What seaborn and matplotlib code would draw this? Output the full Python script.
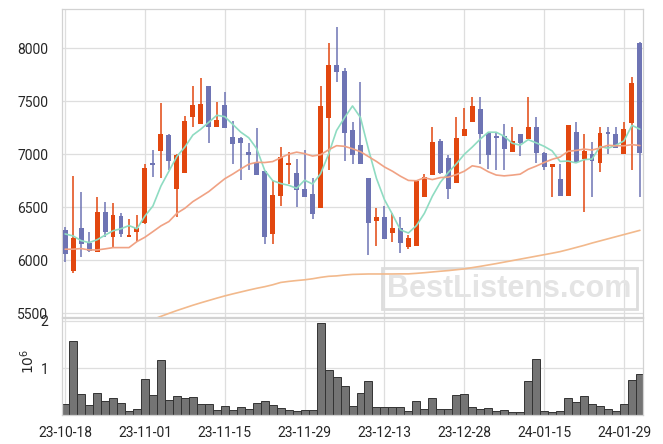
import numpy as np
import pandas as pd
import matplotlib
matplotlib.use("Agg")
import matplotlib.pyplot as plt
import seaborn as sns

# daily candles, index 0 = 23-10-18
opens = [6286, 5902, 6302, 6160, 6082, 6453, 6223, 6415, 6222, 6267,
         6349, 6910, 7034, 7182, 6675, 6827, 7355, 7289, 7645, 7261,
         7465, 7163, 7154, 7022, 6915, 6843, 6251, 6610, 6896, 6824,
         6670, 6626, 6497, 7346, 7843, 7786, 7229, 7085, 6773, 6374,
         6406, 6261, 6302, 6129, 6138, 6600, 6808, 7126, 6962, 6733,
         7176, 7308, 7424, 7198, 7173, 7173, 7025, 7192, 7142, 7255,
         7009, 6884, 6767, 6610, 7211, 6953, 7000, 6921, 7201, 7189,
         7006, 7299, 8047]
highs = [6317, 6795, 6641, 6264, 6594, 6553, 6544, 6443, 6387, 6424,
         6906, 7038, 7481, 7189, 7000, 7365, 7645, 7717, 7645, 7497,
         7585, 7311, 7160, 7104, 7245, 6843, 6748, 7066, 7025, 6953,
         7038, 6773, 7645, 8047, 8204, 7811, 7302, 7679, 6773, 6490,
         6512, 6450, 6412, 6239, 6748, 6811, 7261, 7145, 6997, 7349,
         7440, 7538, 7538, 7211, 7198, 7283, 7261, 7192, 7544, 7355,
         7025, 6906, 6909, 7277, 7302, 7189, 7113, 7255, 7255, 7255,
         7308, 7726, 8063]
lows = [5987, 5877, 6028, 6075, 6075, 6223, 6119, 6217, 6215, 6170,
        6343, 6789, 6773, 6852, 6406, 6827, 7255, 7289, 7104, 7261,
        7251, 6906, 6755, 6849, 6808, 6151, 6151, 6512, 6720, 6500,
        6594, 6393, 6497, 6852, 7679, 6937, 6912, 6906, 6050, 6135,
        6204, 6173, 6066, 6110, 6138, 6600, 6808, 6814, 6575, 6733,
        7176, 7308, 6906, 6858, 6852, 6852, 7025, 6984, 7142, 6915,
        6852, 6600, 6610, 6610, 6924, 6453, 6600, 6830, 7000, 7063,
        7006, 6852, 6594]
closes = [6056, 6210, 6157, 6088, 6453, 6270, 6424, 6251, 6238, 6302,
          6868, 6900, 7192, 6940, 6993, 7314, 7465, 7475, 7261, 7324,
          7251, 7100, 7110, 6997, 6808, 6223, 6616, 6975, 6915, 6667,
          6600, 6440, 7456, 7843, 7780, 7204, 6997, 6906, 6349, 6406,
          6204, 6302, 6167, 6207, 6748, 6786, 7113, 6821, 6670, 7154,
          7239, 7456, 7195, 6994, 7157, 7050, 7123, 7104, 7255, 7009,
          6884, 6906, 6610, 7277, 6924, 7031, 6937, 7201, 7195, 7063,
          7239, 7670, 7016]
volumes = [0.227, 1.567, 0.44, 0.206, 0.461, 0.291, 0.355, 0.248, 0.085, 0.121,
           0.759, 0.418, 1.163, 0.312, 0.397, 0.362, 0.376, 0.227, 0.227, 0.099,
           0.184, 0.099, 0.163, 0.121, 0.248, 0.298, 0.206, 0.142, 0.099, 0.078,
           0.106, 0.106, 1.95, 0.95, 0.80, 0.61, 0.184, 0.461, 0.716, 0.177,
           0.177, 0.177, 0.177, 0.078, 0.291, 0.121, 0.355, 0.121, 0.121, 0.418,
           0.44, 0.163, 0.121, 0.142, 0.078, 0.099, 0.057, 0.057, 0.716, 1.184,
           0.078, 0.057, 0.078, 0.355, 0.27, 0.397, 0.227, 0.184, 0.121, 0.078,
           0.227, 0.738, 0.865]  # millions

# moving averages
ma5 = [6248, 6229, 6185, 6166, 6193, 6236, 6278, 6297, 6327, 6297,
       6417, 6512, 6700, 6840, 6979, 7068, 7181, 7237, 7302, 7368,
       7355, 7282, 7209, 7156, 7053, 6848, 6751, 6724, 6707, 6679,
       6755, 6719, 6816, 7001, 7224, 7345, 7456, 7346, 7047, 6772,
       6572, 6433, 6286, 6257, 6326, 6442, 6604, 6735, 6828, 6909,
       6999, 7068, 7143, 7208, 7208, 7170, 7104, 7086, 7138, 7108,
       7075, 7032, 6932, 6936, 6919, 6949, 6955, 7073, 7057, 7085,
       7126, 7273, 7236]
ma20 = [6104, 6104, 6110, 6097, 6097, 6107, 6119, 6119, 6119, 6176,
        6217, 6270, 6324, 6365, 6443, 6490, 6553, 6600, 6648, 6709,
        6769, 6813, 6861, 6906, 6924, 6922, 6931, 6967, 7001, 7020,
        7006, 6983, 6996, 7042, 7081, 7075, 7052, 7024, 6978, 6932,
        6880, 6840, 6793, 6753, 6750, 6778, 6761, 6780, 6784, 6808,
        6840, 6891, 6878, 6835, 6804, 6796, 6803, 6812, 6858, 6888,
        6922, 6952, 6974, 7028, 7036, 7049, 7040, 7059, 7085, 7080,
        7080, 7091, 7082]
ma120 = [np.nan] * 10 + [
    5410, 5440, 5470, 5498, 5525, 5550, 5575, 5598, 5620, 5642,
    5663, 5682, 5700, 5718, 5735, 5750, 5768, 5790, 5800, 5808,
    5815, 5825, 5838, 5848, 5852, 5860, 5866, 5868, 5870, 5870,
    5870, 5870, 5871, 5871, 5876, 5882, 5889, 5896, 5902, 5910,
    5918, 5930, 5942, 5955, 5968, 5982, 5996, 6010, 6024, 6038,
    6052, 6066, 6081, 6100, 6120, 6140, 6162, 6182, 6202, 6222,
    6242, 6262, 6282]

tick_pos = [0, 10, 20, 30, 40, 50, 60, 70]
tick_labels = ["23-10-18", "23-11-01", "23-11-15", "23-11-29",
               "23-12-13", "23-12-28", "24-01-15", "24-01-29"]

df = pd.DataFrame({"open": opens, "high": highs, "low": lows, "close": closes,
                   "volume": np.array(volumes) * 1e6,
                   "ma5": ma5, "ma20": ma20, "ma120": ma120})
df["idx"] = np.arange(len(df))

sns.set_theme(style="whitegrid", rc={"grid.color": "#dedede", "axes.edgecolor": "#d2d2d2",
                                     "grid.linewidth": 0.9, "axes.linewidth": 0.9})
plt.rcParams["font.family"] = ["Roboto", "DejaVu Sans"]

UP = "#e2470f"
DOWN = "#6e74b4"

fig = plt.figure(figsize=(6.63, 4.44), dpi=100)
ax = fig.add_axes([0.094, 0.287, 0.876, 0.692])
vax = fig.add_axes([0.094, 0.065, 0.876, 0.2185], sharex=ax)

# candles
up = df["close"] >= df["open"]
cols = np.where(up, UP, DOWN)
ax.vlines(df["idx"], df["low"], df["high"], colors=cols, lw=1.1, zorder=2)
body_lo = df[["open", "close"]].min(axis=1)
body_h = (df["close"] - df["open"]).abs().clip(lower=14)
ax.bar(df["idx"], body_h, bottom=body_lo, width=0.62, color=cols, linewidth=0, zorder=3)

# moving averages
sns.lineplot(data=df, x="idx", y="ma5", ax=ax, color="#8fdcc2", lw=1.2, zorder=4)
sns.lineplot(data=df, x="idx", y="ma20", ax=ax, color="#f0a284", lw=1.2, zorder=4)
sns.lineplot(data=df, x="idx", y="ma120", ax=ax, color="#f2b98c", lw=1.2, zorder=4)

ax.text(0.77, 0.09, "BestListens.com", transform=ax.transAxes, ha="center", va="center",
        fontsize=22, fontweight="bold", family="Liberation Sans", color="#e4e4e4", zorder=1,
        bbox=dict(boxstyle="square,pad=0.18", fc="none", ec="#dddddd", lw=2))

ax.set_ylim(5468, 8368)
ax.set_yticks([5500, 6000, 6500, 7000, 7500, 8000])
ax.set_xlim(-0.35, 72.4)
ax.set_xlabel("")
ax.set_ylabel("")
ax.tick_params(labelbottom=False, labelsize=10, pad=4)

# volume
sns.barplot(data=df, x="idx", y="volume", ax=vax, native_scale=True, width=1.0,
            color="#747474", edgecolor="#333333", linewidth=0.7, saturation=1,
            errorbar=None)
vax.set_xlim(-0.35, 72.4)
vax.set_ylim(0, 2.06e6)
vax.set_yticks([1e6, 2e6])
vax.set_yticklabels(["1", "2"])
vax.set_xticks(tick_pos)
vax.set_xticklabels(tick_labels)
vax.set_xlabel("")
vax.set_ylabel(r"$10^6$", fontsize=10)
vax.yaxis.set_label_coords(-0.043, 0.55)
vax.tick_params(axis="y", labelsize=10, pad=4)
vax.tick_params(axis="x", labelsize=10, pad=2)
vax.grid(True, axis="both")

fig.savefig("out.png", dpi=100)
